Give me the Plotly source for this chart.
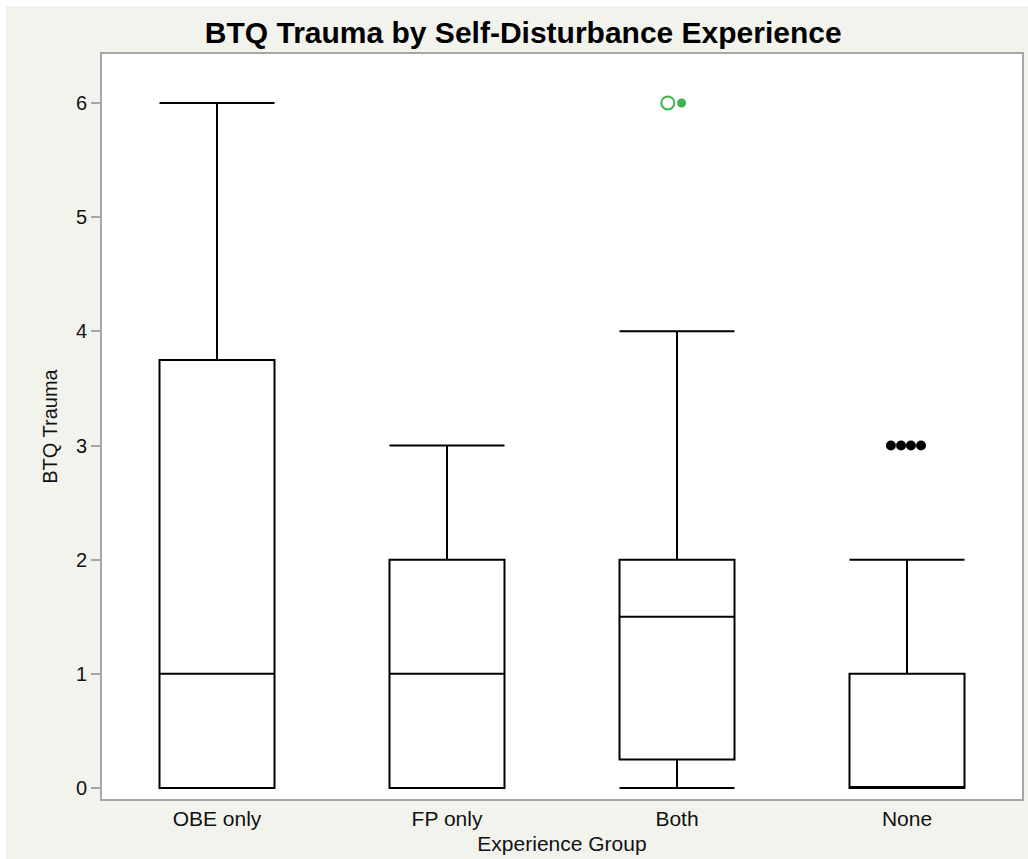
import plotly.graph_objects as go

# ---- data ----
categories = ["OBE only", "FP only", "Both", "None"]
q1 = [0, 0, 0.25, 0]
median = [1, 1, 1.5, 0]
q3 = [3.75, 2, 2, 1]
lower_whisker = [0, 0, 0, 0]
upper_whisker = [6, 3, 4, 2]

# outliers
both_outlier_open = [6]
both_outlier_dot = [6]
none_outliers = [3, 3, 3, 3]
y_ticks = [0, 1, 2, 3, 4, 5, 6]

cat_idx = list(range(len(categories)))

# small horizontal jitter for overlapping outliers (category units)
none_jitter = [-0.070, -0.026, 0.017, 0.061]
both_jitter_open = [-0.040]
both_jitter_dot = [0.020]

BEIGE = "#f3f3ee"
GREEN = "#3fb34f"
AXIS_GRAY = "#a6a6a6"
FONT = "Liberation Sans, Arial, sans-serif"

fig = go.Figure()

fig.add_trace(go.Box(
    x=cat_idx,
    q1=q1, median=median, q3=q3,
    lowerfence=lower_whisker, upperfence=upper_whisker,
    width=0.5,
    whiskerwidth=1,
    boxpoints=False,
    fillcolor="rgba(0,0,0,0)",
    line=dict(color="black", width=2),
    showlegend=False,
    hoverinfo="skip",
))

b = categories.index("Both")
n = categories.index("None")

fig.add_trace(go.Scatter(
    x=[b + j for j in both_jitter_open], y=both_outlier_open,
    mode="markers",
    marker=dict(symbol="circle-open", size=13, color=GREEN, line=dict(width=2, color=GREEN)),
    showlegend=False, hoverinfo="skip",
))
fig.add_trace(go.Scatter(
    x=[b + j for j in both_jitter_dot], y=both_outlier_dot,
    mode="markers",
    marker=dict(symbol="circle", size=9, color=GREEN),
    showlegend=False, hoverinfo="skip",
))
fig.add_trace(go.Scatter(
    x=[n + j for j in none_jitter], y=none_outliers,
    mode="markers",
    marker=dict(symbol="circle", size=10, color="black"),
    showlegend=False, hoverinfo="skip",
))

fig.update_layout(
    width=1028, height=859,
    margin=dict(l=102, r=6, t=54, b=60, autoexpand=False),
    paper_bgcolor="white",
    plot_bgcolor="white",
    font=dict(family=FONT, size=20, color="#111111"),
    title=dict(
        text="<b>BTQ Trauma by Self-Disturbance Experience</b>",
        x=0.509, xanchor="center", xref="container",
        y=1 - 32 / 859, yanchor="middle", yref="container",
        font=dict(family=FONT, size=30, color="black"),
    ),
    shapes=[
        dict(type="rect", xref="paper", yref="paper",
             x0=-96 / 920, x1=1 + 6 / 920, y0=-60 / 745, y1=1 + 48 / 745,
             fillcolor=BEIGE, line=dict(width=0), layer="below"),
        dict(type="rect", xref="paper", yref="paper",
             x0=0, x1=1, y0=0, y1=1,
             fillcolor="white", line=dict(width=0), layer="below"),
    ],
)

fig.update_xaxes(
    range=[-0.5, 3.5],
    tickmode="array", tickvals=cat_idx, ticktext=categories,
    ticks="", showgrid=False, zeroline=False,
    showline=True, linecolor=AXIS_GRAY, linewidth=2, mirror=True,
    title=dict(text="Experience Group", font=dict(size=21), standoff=7),
    tickfont=dict(size=21),
)
fig.update_yaxes(
    range=[-0.096, 6.429],
    tickmode="array", tickvals=y_ticks,
    ticks="outside", ticklen=9, tickcolor=AXIS_GRAY, tickwidth=2,
    showgrid=False, zeroline=False,
    showline=True, linecolor=AXIS_GRAY, linewidth=2, mirror=True,
    title=dict(text="BTQ Trauma", font=dict(size=20), standoff=13),
    tickfont=dict(size=20),
)

fig.write_html(
    "out.html",
    config={"displayModeBar": False},
    post_script="document.body.style.margin='0';",
)
